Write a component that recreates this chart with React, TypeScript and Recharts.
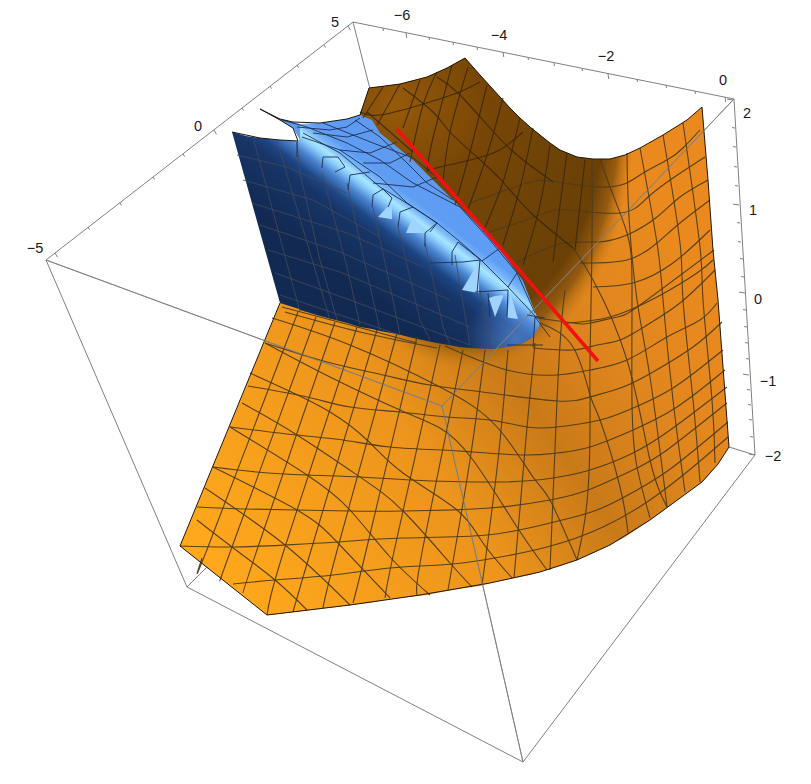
import {
  ComposedChart,
  Area,
  Scatter,
  XAxis,
  YAxis,
  LabelList,
} from "recharts";

type Pt = [number, number];

const surfaceRows = [
  [180, 546, 546], [267, 335, 615], [280, 303, 614], [360, 115, 604], [369, 88, 603],
  [385, 86, 600], [400, 84, 598], [427, 77, 595], [447, 68, 591], [465, 58, 588],
  [480, 75, 586], [490, 86, 583], [500, 97, 581], [510, 108, 579], [520, 118, 577],
  [530, 127, 575], [540, 135, 572], [550, 143, 569], [560, 150, 566], [577, 157, 560],
  [593, 159, 553], [610, 159, 545], [625, 155, 537], [640, 148, 527], [663, 135, 511],
  [687, 120, 493], [702, 107, 482], [708, 180, 476], [713, 250, 470], [718, 300, 464],
  [723, 367, 456], [729, 447, 447],
];
const shadowRows = surfaceRows
  .filter(([x]) => x >= 360 && x <= 640)
  .map(([x, top]) => [x, top, 430]);
const blueRows = [
  [232, 132, 132], [246, 136, 182], [260, 138, 232], [280, 140, 303], [299, 141, 309],
  [300, 124, 310], [320, 123, 316], [347, 119, 323], [360, 115, 327], [372, 120, 329],
  [380, 133, 331], [397, 147, 334], [413, 160, 338], [437, 184, 343], [460, 207, 347],
  [470, 217, 348], [493, 240, 349], [513, 267, 346], [523, 281, 343], [533, 307, 337],
  [537, 317, 331], [540, 323, 323],
];
const tipRows = blueRows.filter(([x]) => x >= 437);
const spikeRows = [[260, 109, 109], [280, 119, 120], [293, 122, 128], [300, 124, 140]];
const glints = [
  [[378, 217, 217], [391, 203, 219], [392, 204, 219]],
  [[406, 233, 233], [413, 217, 233], [425, 233, 233]],
  [[462, 290, 290], [478, 263, 293], [479, 264, 293]],
  [[489, 298, 298], [495, 296, 317], [503, 295, 297]],
  [[507, 317, 317], [510, 292, 318], [518, 319, 319]],
];

const surfaceEdges: Pt[][] = [
  [[180, 546], [280, 303]],
  [[180, 546], [267, 615]],
  [[267, 615], [350, 605], [420, 595], [490, 583], [540, 572], [577, 560], [610, 545], [650, 520], [687, 493], [702, 482], [718, 464], [729, 447]],
  [[702, 107], [708, 180], [713, 250], [718, 300], [723, 367], [729, 447]],
  [[360, 115], [369, 88]],
  [[369, 88], [385, 86], [400, 84], [427, 77], [447, 68], [465, 58]],
  [[465, 58], [480, 75], [490, 86], [500, 97], [510, 108], [520, 118], [530, 127], [540, 135], [550, 143], [560, 150], [577, 157], [593, 159], [610, 159], [625, 155], [640, 148], [663, 135], [687, 120], [702, 107]],
  [[232, 132], [260, 138], [280, 140], [298, 141], [293, 128], [280, 120], [260, 109], [280, 119], [293, 122], [320, 123], [347, 119], [360, 115]],
];

const orangeMesh: Pt[][] = [
  // long runs from the lower edge up to the blue part
  [[202, 558], [208, 547], [298, 312]],
  [[222, 575], [232, 547], [316, 317]],
  [[243, 593], [258, 547], [335, 322]],
  [[267, 615], [285, 547], [357, 327]],
  [[293, 612], [312, 547], [377, 330]],
  [[323, 608], [338, 547], [397, 333]],
  [[353, 603], [367, 547], [417, 337]],
  [[385, 598], [395, 547], [440, 345]],
  [[417, 595], [423, 547], [463, 350]],
  [[448, 590], [470, 460], [485, 350]],
  [[482, 585], [498, 460], [508, 350]],
  [[514, 578], [527, 427], [535, 343]],
  [[550, 570], [557, 400], [562, 317], [565, 290]],
  [[577, 560], [588, 490], [590, 397], [590, 360], [592, 242], [592, 160]],
  [[600, 159], [610, 187], [627, 233], [632, 287], [632, 403], [637, 467], [650, 518]],
  [[627, 153], [629, 217], [637, 300], [650, 377], [667, 507]],
  [[640, 148], [657, 243], [663, 300], [673, 400], [685, 492]],
  [[663, 135], [680, 243], [683, 300], [693, 400], [700, 482]],
  [[683, 123], [700, 247], [703, 300], [712, 400], [715, 463]],
  // curved runs across the bowl
  [[540, 323], [573, 347], [590, 395], [600, 420], [620, 487], [628, 533]],
  [[573, 248], [593, 280], [627, 360], [650, 460], [667, 507]],
  [[272, 318], [350, 345], [440, 387], [497, 427], [533, 477], [550, 500], [577, 560]],
  [[265, 343], [330, 377], [400, 410], [440, 428], [473, 460], [517, 527], [547, 570]],
  [[250, 373], [287, 390], [330, 412], [367, 440], [403, 473], [457, 510], [483, 543], [512, 578]],
  [[242, 403], [297, 435], [360, 477], [403, 511], [450, 563], [472, 587]],
  [[230, 427], [307, 475], [350, 510], [390, 557], [430, 595]],
  [[213, 467], [297, 510], [337, 542], [390, 598]],
  [[205, 488], [285, 545], [350, 605]],
  [[197, 520], [232, 547], [275, 580], [307, 610]],
  // rows
  [[180, 546], [232, 547], [285, 545], [337, 542], [403, 538], [487, 535], [550, 523], [597, 510], [637, 490], [673, 467], [728, 422]],
  [[233, 584], [275, 580], [333, 575], [390, 568], [440, 565], [483, 560], [547, 547], [603, 527], [650, 500], [693, 467], [728, 437]],
  [[197, 507], [245, 509], [297, 510], [350, 511], [403, 511], [490, 508], [550, 500], [588, 490], [633, 470], [667, 450], [727, 403]],
  [[213, 467], [257, 472], [307, 475], [360, 477], [410, 480], [500, 482], [553, 478], [590, 470], [633, 453], [673, 428], [727, 387]],
  [[230, 427], [297, 435], [343, 440], [390, 447], [443, 450], [473, 452], [523, 455], [557, 453], [590, 447], [633, 430], [677, 407], [725, 370]],
  [[248, 386], [307, 397], [350, 407], [400, 412], [447, 417], [490, 420], [527, 427], [557, 427], [600, 420], [633, 408], [673, 388], [723, 350]],
  [[265, 343], [327, 362], [383, 375], [430, 385], [490, 393], [557, 401], [590, 397], [623, 387], [653, 372], [693, 347], [722, 322]],
  [[445, 346], [507, 370], [557, 375], [590, 370], [627, 360], [667, 337], [700, 320], [717, 303]],
  [[282, 307], [350, 325], [417, 343]],
  [[285, 312], [360, 332], [437, 348]],
  [[533, 348], [573, 350], [597, 345], [620, 340], [647, 325], [680, 303], [715, 270]],
  [[537, 318], [573, 323], [590, 323], [617, 317], [640, 305], [714, 250]],
  [[567, 323], [610, 317], [657, 297], [697, 273], [713, 260]],
  [[593, 287], [633, 283], [673, 263], [710, 230]],
  [[580, 263], [627, 260], [657, 243], [680, 223], [710, 200]],
  [[517, 262], [560, 244], [597, 242], [627, 235], [657, 217], [680, 197], [708, 180]],
  [[490, 232], [540, 215], [567, 210], [620, 213], [647, 198], [673, 178], [705, 157]],
  [[470, 203], [527, 183], [557, 182], [610, 187], [640, 175], [667, 160], [683, 148], [700, 130]],
];

const brownMesh: Pt[][] = [
  [[383, 87], [363, 118]],
  [[400, 84], [377, 125]],
  [[420, 80], [403, 128]],
  [[437, 72], [423, 105], [410, 162]],
  [[452, 65], [432, 142], [427, 172]],
  [[468, 67], [450, 132], [443, 182]],
  [[487, 85], [470, 152], [455, 205]],
  [[503, 98], [487, 155], [467, 212]],
  [[520, 118], [503, 182], [483, 232]],
  [[533, 128], [520, 188], [503, 245]],
  [[550, 145], [540, 205], [523, 265]],
  [[567, 153], [560, 205], [553, 262]],
  [[585, 160], [575, 250]],
  [[360, 112], [380, 115], [420, 105], [457, 93], [480, 82]],
  [[403, 88], [433, 112], [450, 132], [478, 158], [503, 182], [530, 212], [573, 248]],
  [[437, 77], [458, 93], [490, 128], [517, 155], [553, 182]],
  [[367, 112], [413, 152]],
  [[427, 170], [478, 158], [503, 148], [523, 132]],
];

const blueMesh: Pt[][] = [
  [[282, 120], [307, 127], [347, 143], [380, 160], [413, 183], [460, 207], [490, 240], [517, 273], [535, 313]],
  [[323, 123], [373, 143], [413, 158], [437, 177], [457, 197]],
  [[302, 137], [340, 150], [380, 177], [407, 203], [437, 223], [458, 240], [482, 261], [508, 287], [537, 318]],
  [[303, 133], [340, 153], [380, 187], [413, 207]],
  [[355, 120], [380, 137], [407, 163], [427, 183], [453, 200]],
  [[297, 127], [330, 130], [347, 127], [360, 118]],
  [[313, 133], [347, 137], [373, 130]],
  [[340, 150], [370, 153], [397, 142]],
  [[363, 163], [390, 163], [410, 153]],
  [[373, 183], [413, 187], [437, 177]],
  [[297, 142], [297, 157]],
  [[322, 168], [323, 157], [338, 157], [345, 167], [335, 172]],
  [[348, 190], [350, 175], [370, 172]],
  [[372, 207], [373, 195], [383, 189], [392, 198], [388, 207]],
  [[398, 227], [400, 212], [413, 207], [437, 223], [425, 233]],
  [[425, 247], [425, 233]],
  [[437, 223], [430, 232]],
  [[452, 265], [452, 252], [458, 242], [482, 261]],
  [[482, 261], [500, 248]],
  [[430, 263], [463, 262], [480, 260]],
  [[508, 287], [517, 273]],
  [[480, 260], [477, 293]],
  [[475, 292], [508, 290]],
  [[490, 317], [488, 293]],
  [[507, 317], [508, 290]],
  [[535, 317], [550, 337]],
  [[527, 315], [545, 318]],
  [[507, 345], [543, 345]],
  [[535, 317], [533, 347]],
];

const navyMesh: Pt[][] = [
  [[237, 155], [287, 167], [347, 193]],
  [[243, 180], [313, 200], [380, 237]],
  [[252, 203], [347, 233], [423, 267]],
  [[260, 225], [340, 252], [450, 300]],
  [[268, 250], [340, 272], [470, 327]],
  [[275, 273], [350, 300], [470, 345]],
  [[280, 295], [400, 335]],
  [[253, 137], [300, 312]],
  [[277, 141], [330, 320]],
  [[297, 142], [300, 173], [320, 260], [337, 320]],
  [[322, 173], [347, 267], [360, 325]],
  [[347, 183], [367, 273], [380, 330]],
  [[373, 207], [393, 300], [400, 335]],
  [[398, 227], [420, 320], [430, 340]],
  [[425, 243], [443, 327], [450, 345]],
  [[455, 255], [470, 345]],
  [[480, 290], [490, 347]],
];

const boxEdges: Pt[][] = [
  [[46, 260], [353, 22]],
  [[353, 22], [734, 99]],
  [[734, 99], [755, 455]],
  [[46, 260], [187, 587]],
  [[187, 587], [523, 762]],
  [[523, 762], [755, 455]],
  [[46, 260], [442, 406]],
  [[442, 406], [734, 99]],
  [[442, 406], [523, 762]],
  [[353, 22], [370, 89]],
  [[187, 587], [207, 567]],
  [[755, 455], [729, 447]],
];

const redLine: Pt[] = [[397, 129], [598, 361]];

const topTicks = [
  [383, 28, 3], [406, 33, 5], [429, 37, 3], [453, 42, 3], [477, 47, 3], [503, 52, 5], [528, 57, 3],
  [554, 63, 3], [582, 68, 3], [608, 74, 5], [637, 79, 3], [666, 85, 3], [695, 91, 3], [725, 97, 5],
];
const leftTicks = [
  [55, 253, 5], [88, 227, 3], [120, 203, 3], [153, 177, 3], [183, 154, 3], [214, 130, 5],
  [242, 108, 3], [270, 86, 3], [297, 65, 3], [324, 45, 3], [348, 26, 5],
];
const rightTicks = [
  [733, 100, 6], [735, 128, 3], [736, 147, 3], [737, 167, 3], [738, 186, 3], [739, 205, 6],
  [740, 223, 3], [741, 242, 3], [743, 259, 3], [744, 277, 3], [745, 293, 6], [746, 310, 3],
  [747, 327, 3], [748, 343, 3], [749, 359, 3], [749, 375, 6], [750, 390, 3], [751, 405, 3],
  [752, 420, 3], [753, 437, 3], [755, 455, 6],
];

const axisLabels = [
  { x: 402, y: 15, label: "\u22126" },
  { x: 499, y: 35, label: "\u22124" },
  { x: 606, y: 56, label: "\u22122" },
  { x: 723, y: 80, label: "0" },
  { x: 747, y: 113, label: "2" },
  { x: 753, y: 210, label: "1" },
  { x: 758, y: 299, label: "0" },
  { x: 768, y: 381, label: "\u22121" },
  { x: 773, y: 456, label: "\u22122" },
  { x: 335, y: 22, label: "5" },
  { x: 198, y: 126, label: "0" },
  { x: 35, y: 248, label: "\u22125" },
];

const tickSegments = (ticks: number[][], dx: number, dy: number): Pt[][] =>
  ticks.map(([x, y, len]) => [
    [x, y],
    [x + dx * len, y + dy * len],
  ]);

const allTicks: Pt[][] = [
  ...tickSegments(topTicks, 0.15, 1),
  ...tickSegments(leftTicks, 0.5, 0.85),
  ...tickSegments(rightTicks, -1, -0.15),
];

const toRows = (rows: number[][]) => rows.map(([x, top, bottom]) => ({ x, band: [top, bottom] }));
const toPoints = (line: Pt[]) => line.map(([x, y]) => ({ x, y }));

const noDot = () => null;

function Lines({ id, lines, stroke, width, opacity = 1, curve = "linear" }: any) {
  return lines.map((line: Pt[], i: number) => (
    <Scatter
      key={`${id}-${i}`}
      data={toPoints(line)}
      dataKey="y"
      shape={noDot}
      line={{ stroke, strokeWidth: width, strokeOpacity: opacity, fill: "none" }}
      lineJointType={curve}
      isAnimationActive={false}
    />
  ));
}

function Band({ rows, fill }: { rows: number[][]; fill: string }) {
  return (
    <Area
      data={toRows(rows)}
      dataKey="band"
      type="linear"
      stroke="none"
      fill={fill}
      fillOpacity={1}
      dot={false}
      activeDot={false}
      isAnimationActive={false}
    />
  );
}

export default function App() {
  return (
    <div style={{ position: "absolute", left: 0, top: 0, width: 811, height: 784, background: "#fff" }}>
      <ComposedChart width={811} height={784} margin={{ top: 0, right: 0, bottom: 0, left: 0 }}>
        <defs>
          <linearGradient id="surfaceFill" gradientUnits="userSpaceOnUse" x1="250" y1="620" x2="720" y2="300">
            <stop offset="0" stopColor="#ffa81c" />
            <stop offset="0.42" stopColor="#ec941c" />
            <stop offset="0.62" stopColor="#c97a18" />
            <stop offset="0.8" stopColor="#e0861e" />
            <stop offset="1" stopColor="#ea8a1e" />
          </linearGradient>
          <radialGradient
            id="shadowFill"
            gradientUnits="userSpaceOnUse"
            cx="0"
            cy="0"
            r="1"
            gradientTransform="translate(470 120) scale(165 250)"
          >
            <stop offset="0" stopColor="#7a4706" />
            <stop offset="0.6" stopColor="#6c4207" />
            <stop offset="0.8" stopColor="#6a4007" />
            <stop offset="0.9" stopColor="#7d4c0b" stopOpacity="0.75" />
            <stop offset="1" stopColor="#c07512" stopOpacity="0" />
          </radialGradient>
          <radialGradient id="wallGlow" gradientUnits="userSpaceOnUse" cx="395" cy="105" r="90">
            <stop offset="0" stopColor="#a8640c" stopOpacity="0.7" />
            <stop offset="1" stopColor="#a8640c" stopOpacity="0" />
          </radialGradient>
          <linearGradient id="blueFill" gradientUnits="userSpaceOnUse" x1="366" y1="293" x2="444" y2="190">
            <stop offset="0" stopColor="#122a52" />
            <stop offset="0.385" stopColor="#173568" />
            <stop offset="0.477" stopColor="#1d4684" />
            <stop offset="0.577" stopColor="#4a84d0" />
            <stop offset="0.654" stopColor="#90d0ff" />
            <stop offset="0.69" stopColor="#a8e6ff" />
            <stop offset="0.738" stopColor="#79b8fa" />
            <stop offset="0.8" stopColor="#5f9df5" />
            <stop offset="1" stopColor="#5f9af0" />
          </linearGradient>
          <radialGradient id="tipGlow" gradientUnits="userSpaceOnUse" cx="515" cy="340" r="50">
            <stop offset="0" stopColor="#5f95e6" stopOpacity="0.65" />
            <stop offset="1" stopColor="#5f95e6" stopOpacity="0" />
          </radialGradient>
        </defs>
        <XAxis type="number" dataKey="x" domain={[0, 811]} allowDataOverflow hide />
        <YAxis type="number" domain={[0, 784]} reversed allowDataOverflow hide />

        {Lines({ id: "box", lines: boxEdges, stroke: "#808080", width: 1 })}
        {Lines({ id: "tick", lines: allTicks, stroke: "#808080", width: 1 })}

        {Band({ rows: surfaceRows, fill: "url(#surfaceFill)" })}
        {Band({ rows: shadowRows, fill: "url(#shadowFill)" })}
        {Band({ rows: shadowRows, fill: "url(#wallGlow)" })}
        {Lines({ id: "orange", lines: orangeMesh, stroke: "#4f3c1a", width: 1.1, opacity: 0.95, curve: "natural" })}
        {Lines({ id: "brown", lines: brownMesh, stroke: "#3a2608", width: 1.1, opacity: 0.85, curve: "natural" })}

        {Band({ rows: blueRows, fill: "url(#blueFill)" })}
        {Band({ rows: tipRows, fill: "url(#tipGlow)" })}
        {Band({ rows: spikeRows, fill: "#5f9af0" })}
        {glints.map((rows) => Band({ rows, fill: "#9fd4ff" }))}
        {Lines({ id: "navy", lines: navyMesh, stroke: "#46495a", width: 1, opacity: 0.8 })}
        {Lines({ id: "blue", lines: blueMesh, stroke: "#1f3050", width: 1, opacity: 0.9 })}

        {Lines({ id: "edge", lines: surfaceEdges, stroke: "#20160a", width: 1 })}
        {Lines({ id: "through", lines: boxEdges.slice(6, 9), stroke: "#808080", width: 1, opacity: 0.7 })}

        <Scatter data={toPoints(redLine)} dataKey="y" shape={noDot} line={{ stroke: "#f21010", strokeWidth: 3.5 }} isAnimationActive={false} />

        <Scatter data={axisLabels} dataKey="y" shape={noDot} isAnimationActive={false}>
          <LabelList
            dataKey="label"
            position="center"
            style={{ fontFamily: "Liberation Sans", fontSize: 14.5, fill: "#1a1a1a" }}
          />
        </Scatter>
      </ComposedChart>
    </div>
  );
}
